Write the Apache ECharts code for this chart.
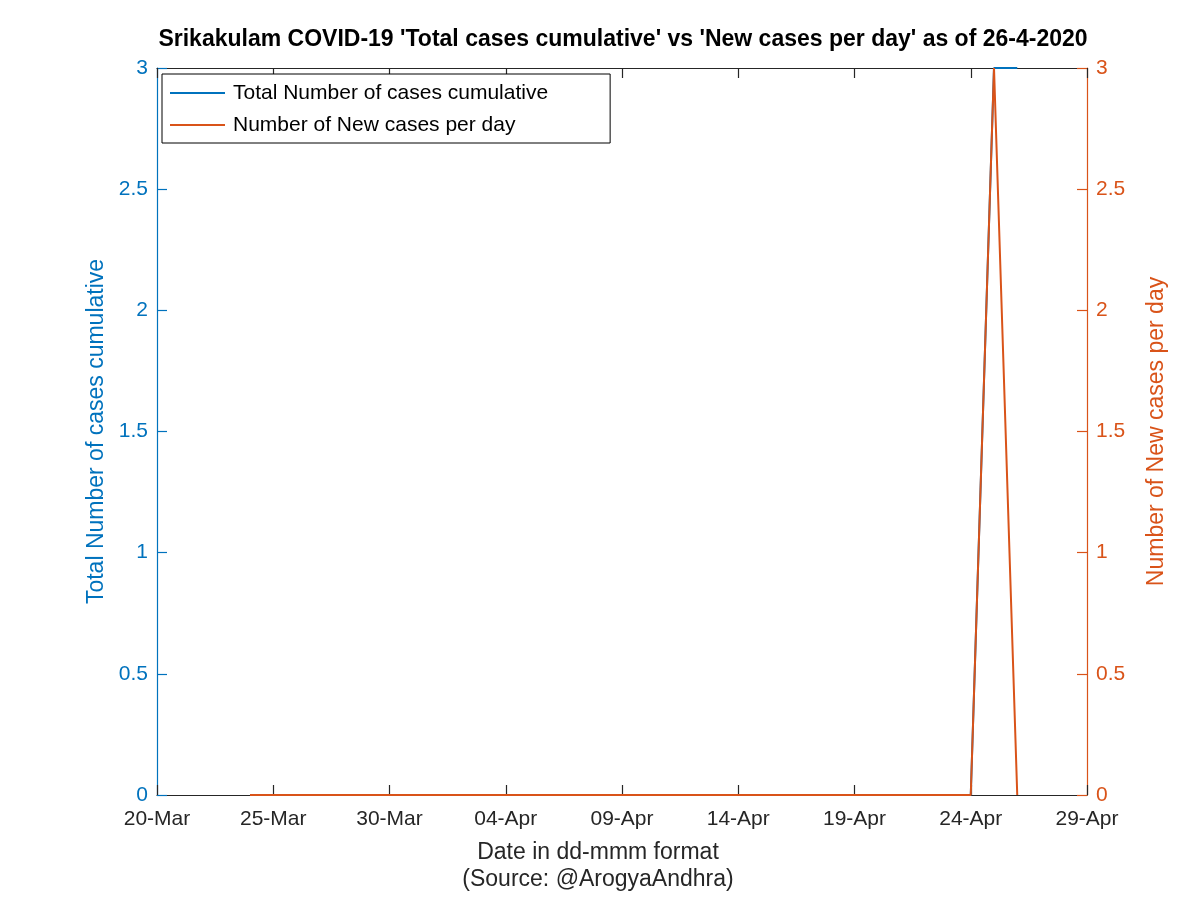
<!DOCTYPE html>
<html><head><meta charset="utf-8">
<script src="https://cdn.jsdelivr.net/npm/echarts@6/dist/echarts.min.js"></script>
<style>html,body{margin:0;padding:0;background:#fff}#c{width:1200px;height:898px}</style>
</head><body><div id="c"></div>
<script>
const startDate = '2020-03-20';
const xTickLabels = ['20-Mar','25-Mar','30-Mar','04-Apr','09-Apr','14-Apr','19-Apr','24-Apr','29-Apr'];
const dates = ['2020-03-24','2020-03-25','2020-03-26','2020-03-27','2020-03-28','2020-03-29','2020-03-30','2020-03-31',
  '2020-04-01','2020-04-02','2020-04-03','2020-04-04','2020-04-05','2020-04-06','2020-04-07','2020-04-08','2020-04-09',
  '2020-04-10','2020-04-11','2020-04-12','2020-04-13','2020-04-14','2020-04-15','2020-04-16','2020-04-17','2020-04-18',
  '2020-04-19','2020-04-20','2020-04-21','2020-04-22','2020-04-23','2020-04-24','2020-04-25','2020-04-26'];
const totalCases = [0,0,0,0,0,0,0,0, 0,0,0,0,0,0,0,0,0, 0,0,0,0,0,0,0,0,0, 0,0,0,0,0,0,3,3];
const newCases   = [0,0,0,0,0,0,0,0, 0,0,0,0,0,0,0,0,0, 0,0,0,0,0,0,0,0,0, 0,0,0,0,0,0,3,0];
const yTickLabels = ['0','0.5','1','1.5','2','2.5','3'];

const DAY = 86400000;
const t0 = Date.parse(startDate);
const dayIdx = d => Math.round((Date.parse(d) - t0) / DAY);
const BLUE = '#0072BD', ORANGE = '#D95319', DARK = '#262626';
const FONT = 'Liberation Sans, Arial, sans-serif';

const chart = echarts.init(document.getElementById('c'));
function yAxisDef(pos, color, name, gap){
  return {
    type:'value', min:0, max:3, interval:0.5, position:pos,
    splitLine:{show:false},
    axisLine:{show:true, onZero:false, lineStyle:{color:color, width:1.2}},
    axisTick:{show:true, inside:true, length:10, lineStyle:{color:color, width:1.2}},
    axisLabel:{fontSize:21, fontFamily:FONT, color:color, margin:9,
      formatter: v => yTickLabels[Math.round(v/0.5)] || ''},
    name:name, nameLocation:'middle', nameGap:gap,
    nameTextStyle:{fontSize:23, fontFamily:FONT, color:color}
  };
}
function xAxisDef(pos, showLabels){
  return {
    type:'value', min:0, max:40, interval:5, position:pos,
    splitLine:{show:false},
    axisLine:{show:true, onZero:false, lineStyle:{color:DARK, width:1.2}},
    axisTick:{show:true, inside:true, length:10, lineStyle:{color:DARK, width:1.2}},
    axisLabel:{show:showLabels, fontSize:21, fontFamily:FONT, color:DARK, margin:14,
      formatter: v => xTickLabels[Math.round(v/5)] || ''}
  };
}
const xBottom = Object.assign(xAxisDef('bottom', true), {
  name:'Date in dd-mmm format\n(Source: @ArogyaAndhra)', nameLocation:'middle', nameGap:44,
  nameTextStyle:{fontSize:23, fontFamily:FONT, color:DARK, lineHeight:27, padding:[0,48,0,0]}
});
chart.setOption({
  animation:false,
  title:{text:"Srikakulam COVID-19 'Total cases cumulative' vs 'New cases per day' as of 26-4-2020",
    left:618, top:23, textAlign:'center',
    textStyle:{fontSize:23, fontWeight:'bold', fontFamily:FONT, color:'#000'}},
  grid:{left:157, right:113, top:68, bottom:97},
  legend:{orient:'vertical', left:162, top:74, backgroundColor:'#fff',
    borderColor:'#000', borderWidth:1, borderRadius:0, padding:[7,62,6,8], itemGap:8,
    itemWidth:55, itemHeight:2, icon:'rect',
    textStyle:{fontSize:21, fontFamily:FONT, color:'#000', lineHeight:24, padding:[0,0,0,3]},
    data:['Total Number of cases cumulative','Number of New cases per day']},
  xAxis:[xBottom, xAxisDef('top', false)],
  yAxis:[yAxisDef('left', BLUE, 'Total Number of cases cumulative', 46),
         yAxisDef('right', ORANGE, 'Number of New cases per day', 58)],
  series:[{
    name:'Total Number of cases cumulative', type:'line', xAxisIndex:0, yAxisIndex:0,
    data: dates.map((d,i)=>[dayIdx(d), totalCases[i]]),
    showSymbol:false, lineStyle:{color:BLUE, width:2}, itemStyle:{color:BLUE}, clip:false
  },{
    name:'Number of New cases per day', type:'line', xAxisIndex:0, yAxisIndex:1,
    data: dates.map((d,i)=>[dayIdx(d), newCases[i]]),
    showSymbol:false, lineStyle:{color:ORANGE, width:2}, itemStyle:{color:ORANGE}, clip:false
  }]
});
</script></body></html>
